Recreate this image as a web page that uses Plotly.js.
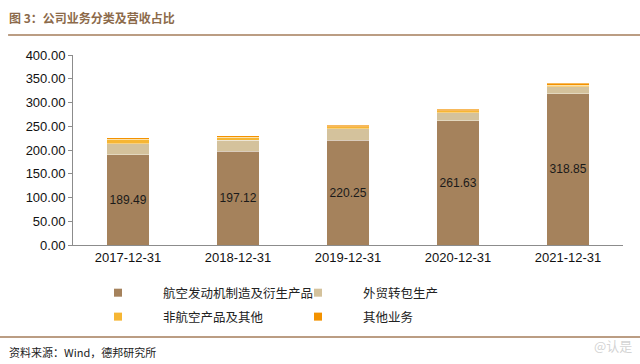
<!DOCTYPE html>
<html>
<head>
<meta charset="utf-8">
<script src="https://cdn.plot.ly/plotly-3.0.1.min.js"></script>
<style>html,body{margin:0;padding:0;background:#fff;}#chart{width:640px;height:364px;}</style>
</head>
<body>
<div id="chart"></div>
<script>
const categories = ["2017-12-31", "2018-12-31", "2019-12-31", "2020-12-31", "2021-12-31"];
const seriesNames = ["航空发动机制造及衍生产品", "外贸转包生产", "非航空产品及其他", "其他业务"];
const engineValues = [189.49, 197.12, 220.25, 261.63, 318.85];
const subcontractValues = [24, 23, 24, 17, 14];
const nonAviationValues = [9, 7, 5, 4, 4];
const otherValues = [3, 3, 3, 3, 4];
const colors = ["#A5825C", "#D4C29C", "#F6B634", "#F39200"];
const yTicks = [0, 50, 100, 150, 200, 250, 300, 350, 400];

const valueSets = [engineValues, subcontractValues, nonAviationValues, otherValues];
const FONT_CN = "Noto Sans CJK SC";
const FONT_NUM = "Liberation Sans, Arial, sans-serif";

const traces = [];
valueSets.forEach((vals, i) => {
  traces.push({
    type: "bar",
    x: categories,
    y: vals,
    name: seriesNames[i],
    showlegend: false,
    marker: {color: colors[i], line: {color: "rgba(255,255,255,0.6)", width: 0.6}},
    text: i === 0 ? vals.map(v => v.toFixed(2)) : undefined,
    textposition: i === 0 ? "inside" : "none",
    insidetextanchor: "middle",
    textangle: 0,
    textfont: {family: FONT_NUM, size: 13.5, color: "#1a1a1a"},
    hoverinfo: "x+y+name"
  });
});
seriesNames.forEach((n, i) => {
  traces.push({
    type: "scatter", mode: "markers",
    x: [null], y: [null],
    name: n,
    legend: i < 2 ? "legend" : "legend2",
    marker: {symbol: "square", size: 8, color: colors[i]},
    showlegend: true
  });
});

const legendBase = {
  orientation: "h",
  traceorder: "normal",
  x: 0.0, xanchor: "left",
  yanchor: "top",
  entrywidth: 105, entrywidthmode: "pixels",
  itemwidth: 80,
  font: {family: FONT_CN, size: 12.5, color: "#222"},
  bgcolor: "rgba(0,0,0,0)"
};

const layout = {
  width: 640, height: 364,
  margin: {l: 73, r: 17, t: 55, b: 119, autoexpand: false},
  paper_bgcolor: "#fff", plot_bgcolor: "#fff",
  barmode: "stack",
  bargap: 0.61,
  showlegend: true,
  legend: Object.assign({}, legendBase, {y: -0.174}),
  legend2: Object.assign({}, legendBase, {y: -0.3}),
  xaxis: {
    type: "category",
    showline: true, linecolor: "#8c8c8c", linewidth: 1,
    ticks: "", showgrid: false,
    tickfont: {family: FONT_NUM, size: 13, color: "#111"},
    fixedrange: true
  },
  yaxis: {
    range: [0, 400],
    tickvals: yTicks,
    ticktext: yTicks.map(v => v.toFixed(2)),
    showline: true, linecolor: "#8c8c8c", linewidth: 1,
    ticks: "outside", ticklen: 4, tickcolor: "#8c8c8c",
    showgrid: false, zeroline: false,
    tickfont: {family: FONT_NUM, size: 13, color: "#111"},
    fixedrange: true
  },
  shapes: [
    {type: "line", xref: "paper", yref: "paper", x0: -0.118, x1: 1.031, y0: 1.105, y1: 1.105, line: {color: "#A47C5A", width: 1.6}},
    {type: "line", xref: "paper", yref: "paper", x0: -0.133, x1: 1.031, y0: -0.484, y1: -0.484, line: {color: "#A47C5A", width: 1.6}}
  ],
  annotations: [
    {text: "<b>图 3：公司业务分类及营收占比</b>", xref: "paper", yref: "paper", x: -0.12, y: 1.2, xanchor: "left", yanchor: "middle", showarrow: false, font: {family: FONT_CN, size: 12, color: "#8C6A4A"}},
    {text: "资料来源：Wind，德邦研究所", xref: "paper", yref: "paper", x: -0.12, y: -0.563, xanchor: "left", yanchor: "middle", showarrow: false, font: {family: FONT_CN, size: 11, color: "#222"}},
    {text: "@认是", xref: "paper", yref: "paper", x: 1.02, y: -0.53, xanchor: "right", yanchor: "middle", showarrow: false, font: {family: FONT_CN, size: 13, color: "rgba(200,200,200,0.8)"}}
  ]
};

Plotly.newPlot("chart", traces, layout, {displayModeBar: false, staticPlot: true});
</script>
</body>
</html>
